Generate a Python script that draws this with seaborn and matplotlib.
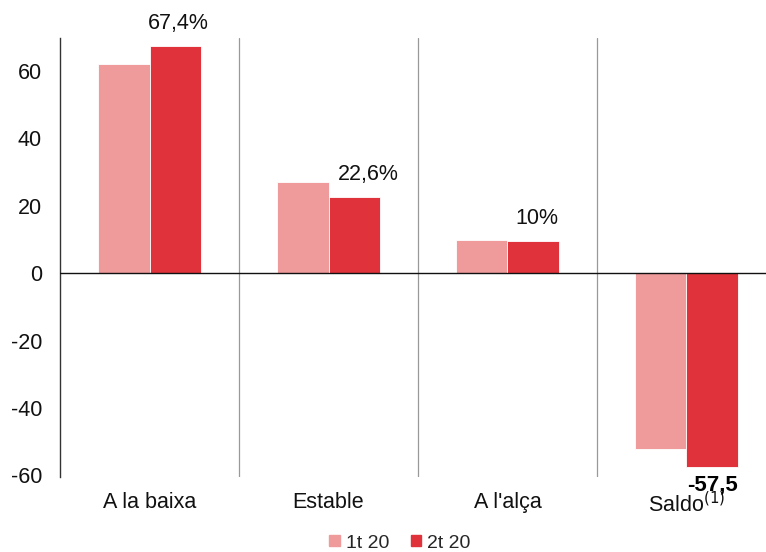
import matplotlib
matplotlib.use("Agg")
import matplotlib.pyplot as plt
import seaborn as sns
import pandas as pd

categories = ["A la baixa", "Estable", "A l'alça", "Saldo$^{(1)}$"]
series_names = ["1t 20", "2t 20"]
values_1t = [62.0, 27.0, 9.9, -52.2]
values_2t = [67.4, 22.6, 9.5, -57.5]
labels_2t = ["67,4%", "22,6%", "10%", "-57,5"]
yticks = [-60, -40, -20, 0, 20, 40, 60]

colors = ["#EF9B9C", "#E0323A"]

df = pd.DataFrame({
    "cat": categories * 2,
    "serie": [series_names[0]] * 4 + [series_names[1]] * 4,
    "val": values_1t + values_2t,
})

sns.set_theme(style="white")
plt.rcParams["font.family"] = ["Liberation Sans", "DejaVu Sans"]
FS = 15.5

fig = plt.figure(figsize=(7.66, 5.52), dpi=100)
ax = fig.add_axes([60 / 766, 1 - 477 / 552, 1 - 60 / 766, (477 - 38) / 552])

sns.barplot(data=df, x="cat", y="val", hue="serie", palette=colors,
            width=0.57, ax=ax, saturation=1, legend=True, linewidth=0.6,
            edgecolor="white")

ax.set_xlim(-0.5, -0.5 + (766 - 60) / 179)
ax.set_ylim(-60.5, 69.8)
ax.set_yticks(yticks)
ax.set_yticklabels([str(t) for t in yticks], fontsize=FS, color="#111111")
ax.set_xlabel("")
ax.set_ylabel("")
ax.tick_params(axis="x", length=0, labelsize=FS, pad=11, colors="#111111")
ax.tick_params(axis="y", length=0, pad=13)

for s in ["top", "right", "bottom"]:
    ax.spines[s].set_visible(False)
ax.spines["left"].set_color("#333333")
ax.spines["left"].set_linewidth(1.0)

ax.axhline(0, color="#111111", lw=1.0, zorder=3)
for xv in [0.5, 1.5, 2.5]:
    ax.axvline(xv, color="#999999", lw=0.9, zorder=0)

offset = 0.1425
for i, (v, lab) in enumerate(zip(values_2t, labels_2t)):
    if v >= 0:
        ax.text(i + offset + (0.08 if i == 1 else 0.02), v + 3.5, lab,
                ha="center", va="bottom", fontsize=FS, clip_on=False,
                color="#111111")
    else:
        ax.text(i + offset, v - 2.3, lab, ha="center", va="top",
                fontsize=FS + 0.5, fontweight="bold", clip_on=False,
                zorder=5, color="#000000")

ax.get_legend().remove()
handles = [plt.Rectangle((0, 0), 1, 1, color=c) for c in colors]
fig.legend(handles, series_names, loc="center", ncol=2, frameon=False,
           fontsize=14, handlelength=0.55, handleheight=0.55,
           handletextpad=0.3, columnspacing=1.1,
           bbox_to_anchor=(0.522, 1 - 543 / 552))

fig.savefig("out.png", dpi=100)
